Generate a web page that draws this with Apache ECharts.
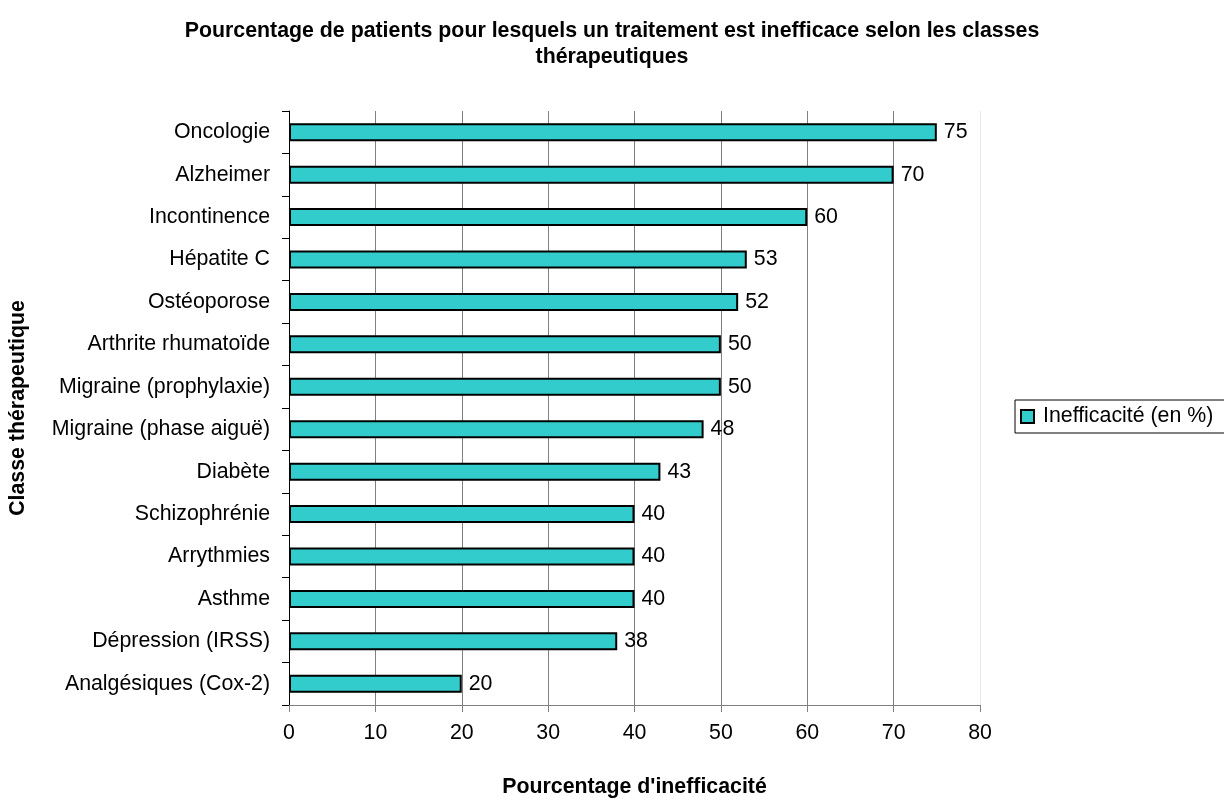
<!DOCTYPE html>
<html>
<head>
<meta charset="utf-8">
<title>Inefficacité des traitements</title>
<script src="https://cdn.jsdelivr.net/npm/echarts@6/dist/echarts.min.js"></script>
<style>
  html, body { margin: 0; padding: 0; background: #fff; }
  #chart { width: 1224px; height: 803px; }
</style>
</head>
<body>
<div id="chart"></div>
<script>
// catégories (de haut en bas)
const categories = [
  'Oncologie', 'Alzheimer', 'Incontinence', 'Hépatite C', 'Ostéoporose',
  'Arthrite rhumatoïde', 'Migraine (prophylaxie)', 'Migraine (phase aiguë)',
  'Diabète', 'Schizophrénie', 'Arrythmies', 'Asthme', 'Dépression (IRSS)',
  'Analgésiques (Cox-2)'
];
// valeurs en %
const inefficacite = [75, 70, 60, 53, 52, 50, 50, 48, 43, 40, 40, 40, 38, 20];
const xTicks = [0, 10, 20, 30, 40, 50, 60, 70, 80];

const FONT = '"Liberation Sans", Arial, sans-serif';
const FS = 21.33;

const chart = echarts.init(document.getElementById('chart'));

// lignes verticales : grises, la dernière (80) très claire
const gridColors = xTicks.map((t, i) => (i === xTicks.length - 1 ? '#e6e6e6' : '#808080'));

const option = {
  animation: false,
  backgroundColor: '#fff',
  textStyle: { fontFamily: FONT },
  title: {
    text: 'Pourcentage de patients pour lesquels un traitement est inefficace selon les classes\nthérapeutiques',
    left: 'center',
    top: 13,
    textStyle: {
      fontFamily: FONT,
      fontSize: FS,
      fontWeight: 'bold',
      color: '#000',
      lineHeight: 26
    }
  },
  legend: {
    left: 1015,
    top: 400,
    orient: 'horizontal',
    data: ['Inefficacité (en %)'],
    icon: 'rect',
    itemWidth: 13,
    itemHeight: 13,
    borderColor: '#000',
    borderWidth: 1,
    borderRadius: 0,
    padding: [6, 14, 6, 5],
    textStyle: {
      fontFamily: FONT,
      fontSize: FS,
      color: '#000',
      padding: [0, 0, 0, 4]
    }
  },
  grid: {
    left: 280,
    right: 244,
    top: 111,
    bottom: 80,
    containLabel: false
  },
  xAxis: {
    type: 'value',
    min: 0,
    max: 80,
    interval: 10,
    name: "Pourcentage d'inefficacité",
    nameLocation: 'middle',
    nameGap: 72,
    nameTextStyle: { fontFamily: FONT, fontSize: FS, fontWeight: 'bold', color: '#000' },
    axisLine: { show: true, lineStyle: { color: '#808080', width: 1 } },
    axisTick: { show: true, length: 7, lineStyle: { color: '#808080' } },
    axisLabel: { fontFamily: FONT, fontSize: FS, color: '#000', margin: 18 },
    splitLine: { show: true, lineStyle: { color: gridColors, width: 1 } }
  },
  yAxis: {
    type: 'category',
    inverse: true,
    data: categories,
    name: 'Classe thérapeutique',
    nameLocation: 'middle',
    nameGap: 260,
    nameRotate: 90,
    nameTextStyle: { fontFamily: FONT, fontSize: FS, fontWeight: 'bold', color: '#000' },
    axisLine: { show: true, lineStyle: { color: '#000', width: 1 } },
    axisTick: { show: true, length: 7, alignWithLabel: false, lineStyle: { color: '#000' } },
    axisLabel: { fontFamily: FONT, fontSize: FS, color: '#000', margin: 19 },
    splitLine: { show: false }
  },
  series: [{
    name: 'Inefficacité (en %)',
    type: 'bar',
    data: inefficacite,
    barWidth: 18,
    itemStyle: {
      color: '#33CCCC',
      borderColor: '#000',
      borderWidth: 2
    },
    label: {
      show: true,
      position: 'right',
      distance: 7,
      fontFamily: FONT,
      fontSize: FS,
      color: '#000'
    }
  }]
};

chart.setOption(option);
window.addEventListener('resize', () => chart.resize());
</script>
</body>
</html>
